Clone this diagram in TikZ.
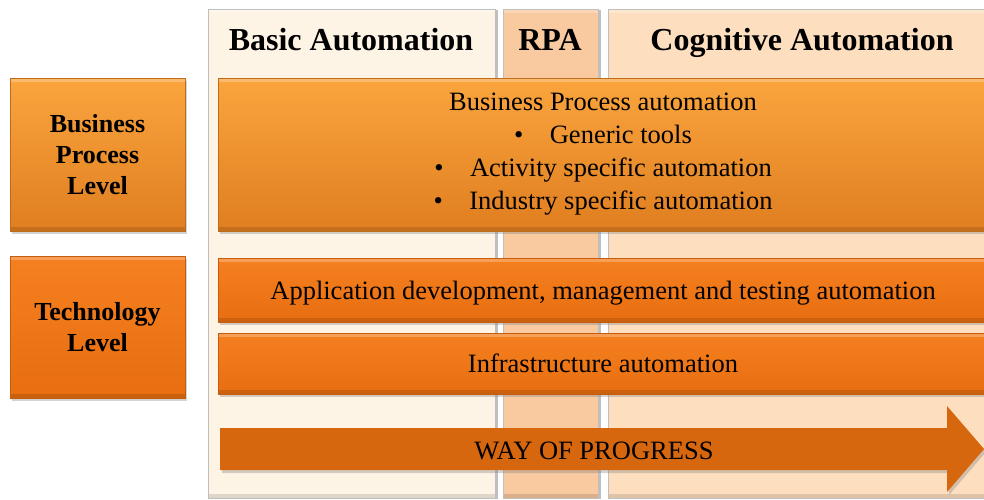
\documentclass[tikz,border=0pt]{standalone}
\usepackage{fontspec}
\setmainfont{Liberation Serif}
\usetikzlibrary{positioning, shadows}

\definecolor{basicBg}{HTML}{FEF4E6}
\definecolor{rpaBg}{HTML}{F9C9A0}
\definecolor{cogBg}{HTML}{FDDFBF}
\definecolor{bpTop}{HTML}{FAA53E}
\definecolor{bpBot}{HTML}{E07E20}
\definecolor{techTop}{HTML}{F58020}
\definecolor{techBot}{HTML}{E86E10}
\definecolor{progOr}{HTML}{D6670F}

\begin{document}
\begin{tikzpicture}[x=1pt, y=-1pt,
    every node/.style={inner sep=0pt, outer sep=0pt},
    bevel/.style={path picture={
        \fill[white, opacity=0.25] (path picture bounding box.north west)
            rectangle ([yshift=-4pt]path picture bounding box.north east);
        \fill[black, opacity=0.12] (path picture bounding box.south west)
            rectangle ([yshift=4pt]path picture bounding box.south east);}},
    column/.style={draw=black!25, line width=0.6pt, anchor=north west,
        minimum height=489pt, bevel,
        drop shadow={opacity=0.5, shadow xshift=2.5pt, shadow yshift=-1pt}},
    head/.style={anchor=base, font=\bfseries\fontsize{32}{36}\selectfont},
    level/.style={anchor=north west, minimum width=175pt, align=center, bevel,
        top color=bpTop, bottom color=bpBot, draw=bpBot!85!black, line width=0.4pt,
        font=\bfseries\fontsize{26}{31}\selectfont,
        drop shadow={opacity=0.35, shadow xshift=2pt, shadow yshift=-3pt}},
    band/.style={anchor=north west, minimum width=770pt, align=center, bevel,
        top color=techTop, bottom color=techBot, draw=techBot!85!black, line width=0.4pt,
        font=\fontsize{26.5}{33}\selectfont,
        drop shadow={opacity=0.35, shadow xshift=2pt, shadow yshift=-3pt}}]

    \useasboundingbox (0,0) rectangle (984,499);
    \clip (0,0) rectangle (984,499);

    % Columns
    \node[column, fill=basicBg, minimum width=287pt] (basic) at (208,9) {};
    \node[column, fill=rpaBg, minimum width=95pt] (rpa) at (503,9) {};
    \node[column, fill=cogBg, minimum width=380pt] (cog) at (608,9) {};

    \node[head] (basichead) at (351,50) {Basic Automation};
    \node[head] (rpahead) at (550,50) {RPA};
    \node[head] (coghead) at (802,50) {Cognitive Automation};

    % Levels on the left
    \node[level, minimum height=153pt] (bplevel) at (10,78) {Business\\Process\\Level};
    \node[level, minimum height=142pt, top color=techTop, bottom color=techBot,
        draw=techBot!85!black] (techlevel) at (10,256) {Technology\\Level};

    % Bands
    \node[band, minimum height=153pt, top color=bpTop, bottom color=bpBot,
        draw=bpBot!85!black] (bpauto) at (218,78) {Business Process automation\\
        \textbullet\hspace{1em}Generic tools\\
        \textbullet\hspace{1em}Activity specific automation\\
        \textbullet\hspace{1em}Industry specific automation};
    \node[band, minimum height=64pt, text depth=0pt] (appauto) at (218,258)
        {Application development, management and testing automation};
    \node[band, minimum height=61pt, text depth=0pt] (infraauto) at (218,333)
        {Infrastructure automation};

    % Progress arrow
    \fill[progOr, drop shadow={opacity=0.35, shadow xshift=2pt, shadow yshift=-3pt}]
        (220,428) -- (947,428) -- (947,406) -- (984,449) -- (947,492) -- (947,470)
        -- (220,470) -- cycle;
    \node[font=\fontsize{26.5}{33}\selectfont, text depth=0pt] (progress) at (594,451)
        {WAY OF PROGRESS};

\end{tikzpicture}
\end{document}
